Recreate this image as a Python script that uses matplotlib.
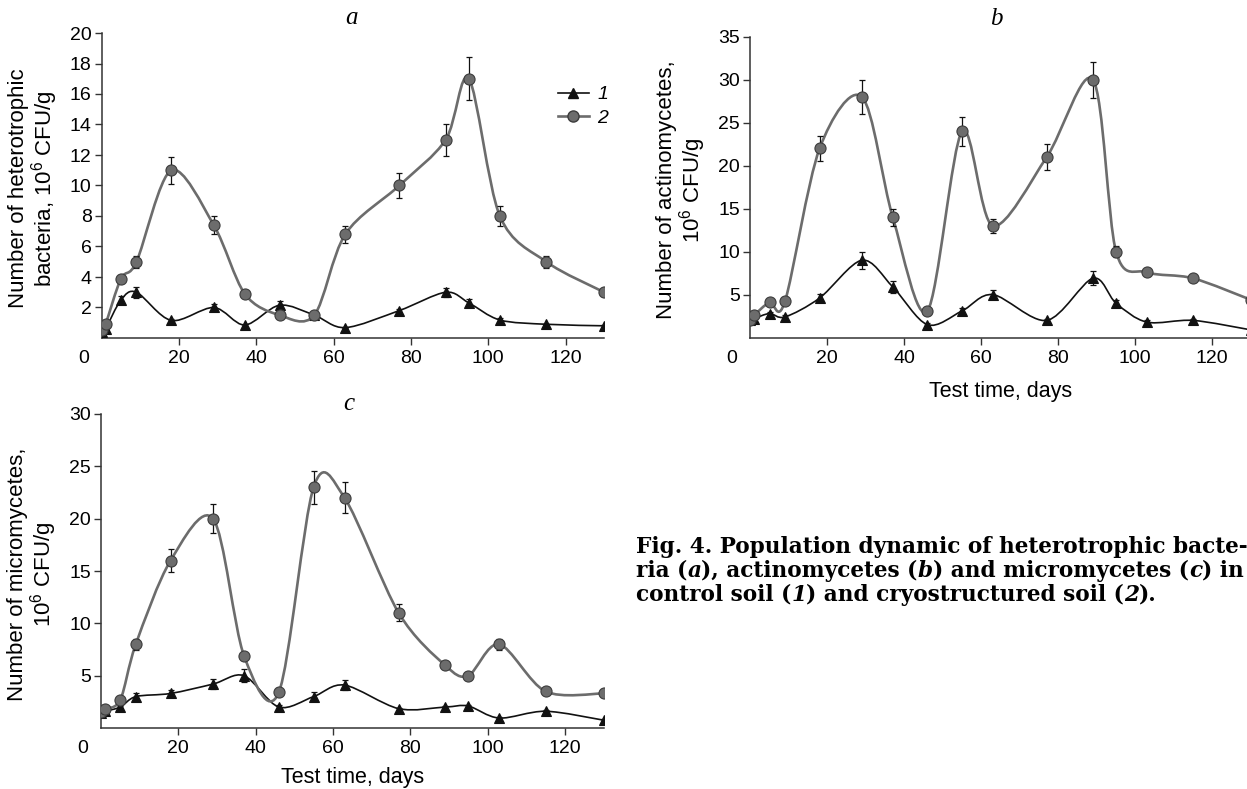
import numpy as np
import matplotlib
matplotlib.use("Agg")
import matplotlib.pyplot as plt
from matplotlib.path import Path
from matplotlib.patches import PathPatch
from matplotlib.lines import Line2D

W, H = 1247, 789

plt.rcParams['font.family'] = ['Liberation Sans', 'DejaVu Sans']
plt.rcParams['mathtext.fontset'] = 'custom'
plt.rcParams['mathtext.rm'] = 'Liberation Sans'
plt.rcParams['mathtext.it'] = 'Liberation Sans:italic'

# sampling days (same for all panels)
days = [0, 1, 5, 9, 18, 29, 37, 46, 55, 63, 77, 89, 95, 103, 115, 130]

# a - heterotrophic bacteria, 10^6 CFU/g
a_ctrl = [0.4, 0.6, 2.5, 3.0, 1.15, 2.0, 0.85, 2.15, 1.5, 0.68, 1.8, 3.0, 2.3, 1.18, 0.9, 0.8]
a_ctrl_err = [0, 0, 0.25, 0.35, 0.1, 0.2, 0.1, 0.25, 0.1, 0.05, 0.1, 0.3, 0.25, 0.1, 0.05, 0.05]
a_cryo = [0.5, 0.9, 3.9, 5.0, 11.0, 7.4, 2.9, 1.5, 1.5, 6.8, 10.0, 13.0, 17.0, 8.0, 5.0, 3.0]
a_cryo_err = [0, 0, 0.2, 0.4, 0.9, 0.6, 0.1, 0.1, 0.1, 0.55, 0.8, 1.05, 1.4, 0.65, 0.4, 0.1]

# b - actinomycetes
b_ctrl = [2.0, 2.2, 2.8, 2.4, 4.6, 9.0, 5.9, 1.5, 3.1, 5.0, 2.0, 6.9, 4.0, 1.8, 2.0, 0.9]
b_ctrl_err = [0.1, 0.1, 0.2, 0.2, 0.5, 1.0, 0.7, 0.2, 0.3, 0.5, 0.2, 0.8, 0.4, 0.2, 0.2, 0.1]
b_cryo = [2.05, 2.6, 4.1, 4.2, 22.0, 28.0, 14.0, 3.1, 24.0, 13.0, 21.0, 30.0, 10.0, 7.6, 6.9, 4.4]
b_cryo_err = [0.1, 0.2, 0.3, 0.3, 1.5, 2.0, 1.0, 0.3, 1.7, 0.8, 1.5, 2.1, 0.6, 0.4, 0.3, 0.3]

# c - micromycetes
c_ctrl = [1.4, 1.6, 2.0, 3.0, 3.3, 4.2, 5.0, 2.0, 3.0, 4.1, 1.85, 2.0, 2.1, 0.95, 1.6, 0.75]
c_ctrl_err = [0.1, 0.1, 0.1, 0.35, 0.3, 0.5, 0.6, 0.2, 0.4, 0.5, 0.1, 0.1, 0.1, 0.1, 0.1, 0.1]
c_cryo = [1.5, 1.8, 2.7, 8.0, 16.0, 20.0, 6.9, 3.4, 23.0, 22.0, 11.0, 6.0, 5.0, 8.0, 3.5, 3.3]
c_cryo_err = [0.1, 0.1, 0.2, 0.5, 1.1, 1.4, 0.3, 0.2, 1.6, 1.5, 0.8, 0.3, 0.2, 0.5, 0.2, 0.1]

x_ticks = [20, 40, 60, 80, 100, 120]

GRAY = '#6c6c6c'
GRAY_EDGE = '#3c3c3c'
BLACK = '#111111'
TICK_FS = 14


def smooth_path(x, y):
    # Excel-like smoothed line: cubic Bezier segments through the points
    pts = np.column_stack([x, y]).astype(float)
    n = len(pts)
    verts = [pts[0]]
    codes = [Path.MOVETO]
    for i in range(n - 1):
        p0 = pts[i - 1] if i > 0 else pts[i]
        p1, p2 = pts[i], pts[i + 1]
        p3 = pts[i + 2] if i + 2 < n else pts[i + 1]
        verts += [p1 + (p2 - p0) / 6.5, p2 - (p3 - p1) / 6.5, p2]
        codes += [Path.CURVE4] * 3
    return Path(verts, codes)


def draw_series(ax, y, err, color, lw, marker, ms, mfc, mec, z):
    ax.add_patch(PathPatch(smooth_path(days, y), facecolor='none', edgecolor=color,
                           lw=lw, zorder=z, capstyle='round'))
    ax.errorbar(days, y, yerr=err, fmt='none', ecolor=BLACK, elinewidth=0.9,
                capsize=2.3, capthick=0.9, zorder=z + 0.1)
    ax.plot(days, y, ls='none', marker=marker, ms=ms, mfc=mfc, mec=mec, mew=0.8,
            zorder=z + 0.2)


def setup_axes(ax, ymax, ystep, ylabel, xlabel=None, xpad=10):
    ax.set_xlim(0, 130)
    ax.set_ylim(0, ymax)
    for s in ['top', 'right']:
        ax.spines[s].set_visible(False)
    for s in ['left', 'bottom']:
        ax.spines[s].set_color('#333333')
        ax.spines[s].set_linewidth(1.1)
    yt = np.arange(ystep, ymax + 0.01, ystep)
    ax.set_xticks(x_ticks)
    ax.set_yticks(yt)
    ax.set_yticklabels([f'{v:g}' for v in yt])
    ax.tick_params(direction='out', length=4.8, width=1.0, color='#333333',
                   labelsize=TICK_FS, pad=2.5)
    ax.tick_params(axis='x', pad=4)
    # origin label drawn left of the corner
    ax.annotate('0', xy=(0, 0), xycoords='data', xytext=(-18.5 * 0.72, -20.5 * 0.72),
                textcoords='offset points', ha='center', va='center', fontsize=TICK_FS)
    if xlabel:
        ax.set_xlabel(xlabel, fontsize=15.5, labelpad=xpad)
    ax.text(-68 / (ax.get_position().width * W), 0.49, ylabel, transform=ax.transAxes,
            rotation=90, ha='center', va='center', fontsize=16, multialignment='center',
            linespacing=1.0)


fig = plt.figure(figsize=(W / 100, H / 100), dpi=100)

ax_a = fig.add_axes([101.7 / W, 1 - 338 / H, 502.5 / W, 305 / H])
ax_b = fig.add_axes([750.3 / W, 1 - 337.6 / H, 500.5 / W, 300.9 / H])
ax_c = fig.add_axes([101 / W, 1 - 728 / H, 502.5 / W, 314 / H])

panels = [
    (ax_a, a_ctrl, a_ctrl_err, a_cryo, a_cryo_err, 20, 2,
     'Number of heterotrophic\nbacteria, 10$^\\mathregular{6}$ CFU/g', None, 0),
    (ax_b, b_ctrl, b_ctrl_err, b_cryo, b_cryo_err, 35, 5,
     'Number of actinomycetes,\n10$^\\mathregular{6}$ CFU/g', 'Test time, days', 10),
    (ax_c, c_ctrl, c_ctrl_err, c_cryo, c_cryo_err, 30, 5,
     'Number of micromycetes,\n10$^\\mathregular{6}$ CFU/g', 'Test time, days', 7),
]

for ax, yc, yce, yr, yre, ymax, ystep, ylab, xlab, xpad in panels:
    setup_axes(ax, ymax, ystep, ylab, xlab, xpad)
    draw_series(ax, yc, yce, BLACK, 1.2, '^', 7, BLACK, BLACK, 3)
    draw_series(ax, yr, yre, GRAY, 1.9, 'o', 8, GRAY, GRAY_EDGE, 4)

# panel letters
for letter, (px, py) in zip('abc', [(352, 18), (996, 19), (349, 404)]):
    fig.text(px / W, 1 - py / H, letter, ha='center', va='center', fontsize=18,
             family='Liberation Serif', style='italic')

# legend (panel a only)
handles = [
    Line2D([], [], color=BLACK, lw=1.2, marker='^', ms=7, mfc=BLACK, mec=BLACK),
    Line2D([], [], color=GRAY, lw=1.9, marker='o', ms=8, mfc=GRAY, mec=GRAY_EDGE),
]
ax_a.legend(handles, ['1', '2'], loc='upper left',
            bbox_to_anchor=((548 - 101.7) / 502.5, (338 - 76) / 305),
            frameon=False, borderpad=0, handlelength=1.6, handletextpad=0.45,
            labelspacing=0.3, prop={'size': TICK_FS, 'style': 'italic'})

# caption (runs to the right edge, as in the printed figure)
cap_kw = dict(family='DejaVu Serif', weight='bold', fontsize=15.6)
lines = [
    [('Fig. 4. Population dynamic of heterotrophic bacte-', 'normal')],
    [('ria (', 'normal'), ('a', 'italic'), ('), actinomycetes (', 'normal'), ('b', 'italic'),
     (') and micromycetes (', 'normal'), ('c', 'italic'), (') in', 'normal')],
    [('control soil (', 'normal'), ('1', 'italic'), (') and cryostructured soil (', 'normal'),
     ('2', 'italic'), (').', 'normal')],
]
for k, parts in enumerate(lines):
    y = 1 - (547 + 24 * k) / H
    t = fig.text(636 / W, y, parts[0][0], ha='left', va='center', style=parts[0][1], **cap_kw)
    for s, st in parts[1:]:
        t = ax_c.annotate(s, xy=(1, 0.5), xycoords=t, ha='left', va='center', style=st,
                          annotation_clip=False, **cap_kw)

fig.savefig('out.png', dpi=100)
